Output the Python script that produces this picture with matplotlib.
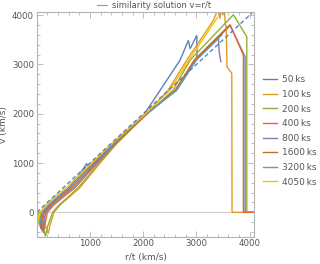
import matplotlib
matplotlib.use("Agg")
from matplotlib import pyplot as plt
from matplotlib.ticker import MultipleLocator
from matplotlib.lines import Line2D

# time labels and colours (Mathematica default palette)
labels = ['50\u2009ks', '100\u2009ks', '200\u2009ks', '400\u2009ks',
          '800\u2009ks', '1600\u2009ks', '3200\u2009ks', '4050\u2009ks']
colors = ['#5E81B5', '#E19C24', '#8FB032', '#EB6235',
          '#8778B3', '#C56E1A', '#5D9EC7', '#FFBF00']

# velocity profiles, r/t (km/s) vs v (km/s)
x_50 = [30, 80, 110, 140, 260, 420, 620, 800, 940, 990, 1100, 1300, 1500, 2000,
        2318, 2694, 2850, 2882, 3008, 3012, 3300, 3633, 3915, 3915, 4100]
v_50 = [0, -340, -180, 0, 150, 320, 520, 760, 990, 825, 1000, 1270, 1470, 1960,
        2475, 3089, 3490, 3320, 3590, 3120, 3430, 3790, 3156, 0, 0]

x_100 = [60, 218, 250, 325, 450, 620, 810, 1000, 1190, 1500, 2000, 2468, 2820,
         3320, 3414, 3445, 3470, 3500, 3525, 3545, 3560, 3575, 3665, 3670, 4100]
v_100 = [0, -430, -260, 0, 160, 320, 500, 750, 1000, 1390, 1930, 2475, 3089,
         3895, 4150, 3930, 4150, 4000, 4120, 3800, 3790, 2950, 2820, 0, 0]

x_200 = [50, 165, 200, 300, 420, 580, 780, 980, 1170, 1500, 2000, 2560, 2882,
         3695, 3947, 3947, 4100]
v_200 = [0, -490, -300, 0, 150, 300, 500, 750, 1000, 1400, 1920, 2475, 3089,
         4010, 3562, 0, 0]

x_400 = [40, 125, 160, 200, 320, 500, 720, 930, 1140, 1500, 2000, 2600, 2960,
         3633, 3883, 3883, 4100]
v_400 = [0, -415, -220, 0, 150, 310, 500, 750, 1000, 1420, 1930, 2475, 3089,
         3810, 3190, 0, 0]

x_800 = [35, 105, 135, 170, 290, 460, 680, 900, 1110, 1500, 2000, 2620, 2990,
         3414, 3430, 3459]
v_800 = [0, -380, -200, 0, 150, 310, 500, 750, 1000, 1440, 1940, 2475, 3089,
         3530, 3250, 3055]

x_1600 = [30, 70, 95, 125, 230, 400, 640, 860, 1080, 1500, 2000, 2610, 2970, 3560]
v_1600 = [0, -300, -170, 0, 130, 290, 500, 750, 1000, 1450, 1945, 2475, 3089, 3720]

x_3200 = [25, 50, 70, 95, 200, 350, 600, 830, 1060, 1500, 2000, 2630, 3000, 3480]
v_3200 = [0, -250, -150, 0, 130, 280, 500, 750, 1000, 1460, 1950, 2475, 3089, 3600]

x_4050 = [20, 30, 45, 62, 150, 300, 560, 800, 1030, 1500, 2000, 2500, 2860, 3300, 3400]
v_4050 = [0, -180, -100, 0, 120, 280, 500, 760, 1000, 1480, 1960, 2475, 3089, 3800, 3960]

# similarity solution v = r/t
sim_x = [0, 4100]
sim_v = [0, 4100]

xs = [x_50, x_100, x_200, x_400, x_800, x_1600, x_3200, x_4050]
vs = [v_50, v_100, v_200, v_400, v_800, v_1600, v_3200, v_4050]

fig = plt.figure(figsize=(3.2, 2.64), dpi=100)
ax = fig.add_axes([0.1147, 0.1034, 0.6803, 0.8511])

frame = '#b3b3b3'
txt = '#555555'

ax.axhline(0, color='#cccccc', lw=0.8, zorder=0)

handles = []
for x, v, c in zip(xs, vs, colors):
    h, = ax.plot(x, v, color=c, lw=1.0, solid_joinstyle='miter')
    handles.append(h)

ax.plot(sim_x, sim_v, color='#5E81B5', lw=1.0, dashes=(3, 2))

ax.set_xlim(0, 4090)
ax.set_ylim(-495, 4065)
ax.set_xticks([1000, 2000, 3000, 4000])
ax.set_yticks([0, 1000, 2000, 3000, 4000])
ax.xaxis.set_minor_locator(MultipleLocator(200))
ax.yaxis.set_minor_locator(MultipleLocator(200))
ax.tick_params(which='both', direction='in', top=True, right=True,
               color=frame, width=0.6, labelsize=6.2, labelcolor=txt, pad=2)
ax.tick_params(which='major', length=4)
ax.tick_params(which='minor', length=2)
for s in ax.spines.values():
    s.set_color(frame)
    s.set_linewidth(0.8)

ax.set_xlabel('r/t (km/s)', fontsize=6.5, color=txt, labelpad=3)
ax.set_ylabel('v (km/s)', fontsize=6.5, color=txt, labelpad=3)

# legend for the dashed line, above the plot
fig.add_artist(Line2D([97 / 320, 107 / 320], [1 - 5 / 264, 1 - 5 / 264],
                      color='#999999', lw=0.8))
fig.text(112 / 320, 1 - 5 / 264, 'similarity solution v=r/t', fontsize=6,
         color=txt, ha='left', va='center')

ax.legend(handles, labels, loc='center left', bbox_to_anchor=(0.822, 0.504),
          bbox_transform=fig.transFigure, frameon=False, fontsize=6.5,
          handlelength=1.6, handletextpad=0.5, labelspacing=0.62,
          borderpad=0, borderaxespad=0, labelcolor=txt)

fig.savefig('out.png', dpi=100)
